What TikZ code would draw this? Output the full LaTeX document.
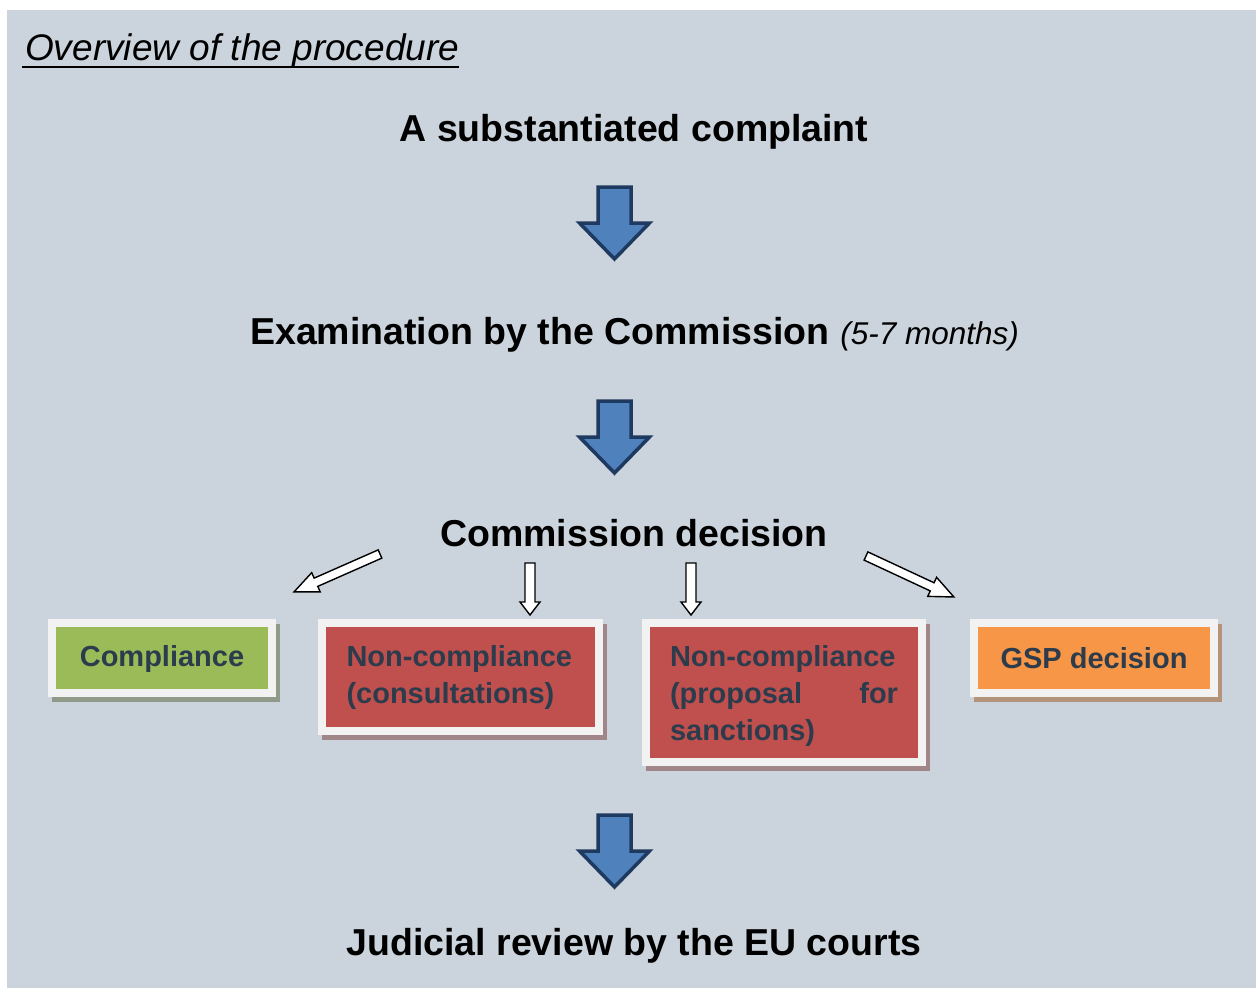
\documentclass[tikz,border=0pt]{standalone}
\usepackage{fontspec}
\setmainfont{Liberation Sans}
\begin{document}
\definecolor{panel}{HTML}{CBD4DC}
\definecolor{frame}{HTML}{F2F2F2}
\definecolor{okgreen}{HTML}{9BBB59}
\definecolor{nored}{HTML}{C0504D}
\definecolor{gsporange}{HTML}{F79646}
\definecolor{boxtext}{HTML}{2C3C4C}
\definecolor{arrowblue}{HTML}{4F81BD}
\definecolor{arrowline}{HTML}{1F3A60}
\definecolor{shgreen}{HTML}{8F9B88}
\definecolor{shred}{HTML}{A08688}
\definecolor{shorange}{HTML}{B3937A}
\begin{tikzpicture}[x=1pt,y=1pt,
  heading/.style={font=\fontsize{37.5}{44}\selectfont\bfseries, inner sep=0},
  outcome/.style={draw=frame, line width=8pt, text=boxtext, inner sep=0,
    font=\fontsize{29}{37}\selectfont\bfseries,
    preaction={draw=#1, fill=#1, line width=8pt,
      transform canvas={shift={(3.5,-4.5)}}}},
  bigarrowline/.style={draw=arrowline, fill=arrowblue, line width=3.5pt, line join=miter},
  hollowline/.style={draw=black, fill=white, line width=1.4pt, line join=miter},
  pics/bigarrow/.style={code={
    \path[bigarrowline] (-16.5,-2) -- (16.5,-2) -- (16.5,-38) -- (35,-38)
      -- (0,-74) -- (-35,-38) -- (-16.5,-38) -- cycle;}},
  pics/hollowarrow/.style n args={4}{code={
    \path[hollowline] (0,-#3) -- (#1-#2,-#3) -- (#1-#2,-#4) -- (#1,0)
      -- (#1-#2,#4) -- (#1-#2,#3) -- (0,#3) -- cycle;}}
]
% page and panel
\useasboundingbox (0,0) rectangle (1256,-988);
\fill[panel] (7,-10) rectangle (1256,-988);

% title
\node[anchor=base west, inner sep=0, font=\fontsize{37}{44}\selectfont\itshape]
  (title) at (25,-60) {Overview of the procedure};
\draw[line width=2.6pt] ([shift={(-3,-7)}]title.base west) -- ([shift={(0,-7)}]title.base east);

% main steps
\node[heading, anchor=base] (complaint) at (634,-141) {A substantiated complaint};
\node[heading, anchor=base west] (exam) at (250,-344)
  {Examination by the Commission\hspace{11pt}{\mdseries\itshape\fontsize{31.5}{40}\selectfont(5-7 months)}};
\node[heading, anchor=base] (decision) at (634,-546) {Commission decision};
\node[heading, anchor=base] (review) at (634,-955) {Judicial review by the EU courts};

% flow arrows between the steps
\pic at (614.5,-185) {bigarrow};
\pic at (614.5,-399) {bigarrow};
\pic at (614.5,-813) {bigarrow};

% possible outcomes
\node[outcome=shgreen, fill=okgreen, minimum width=220pt, minimum height=70pt]
  (comp) at (162,-658) {\rule{0pt}{23pt}Compliance};
\node[outcome=shred, fill=nored, minimum width=277pt, minimum height=108pt,
      text width=228pt, align=left]
  (consult) at (460.5,-677) {\rule{0pt}{23pt}Non-compliance\\(consultations)};
\node[outcome=shred, fill=nored, minimum width=276pt, minimum height=139pt,
      text width=228pt, align=left]
  (sanct) at (784,-692.5) {\rule{0pt}{29pt}Non-compliance\\(proposal\hfill for\\sanctions)};
\node[outcome=shorange, fill=gsporange, minimum width=240pt, minimum height=70pt]
  (gsp) at (1094,-658) {GSP decision};

% branch arrows from the decision to the outcomes
\pic[rotate=203.8] at (380,-554) {hollowarrow={94}{24}{4.5}{10.5}};
\pic[rotate=-90] at (530,-563) {hollowarrow={52}{13}{5}{10}};
\pic[rotate=-90] at (691,-563) {hollowarrow={52}{13}{5}{10}};
\pic[rotate=-25] at (866,-556) {hollowarrow={97}{24}{4.5}{10.5}};
\end{tikzpicture}
\end{document}
